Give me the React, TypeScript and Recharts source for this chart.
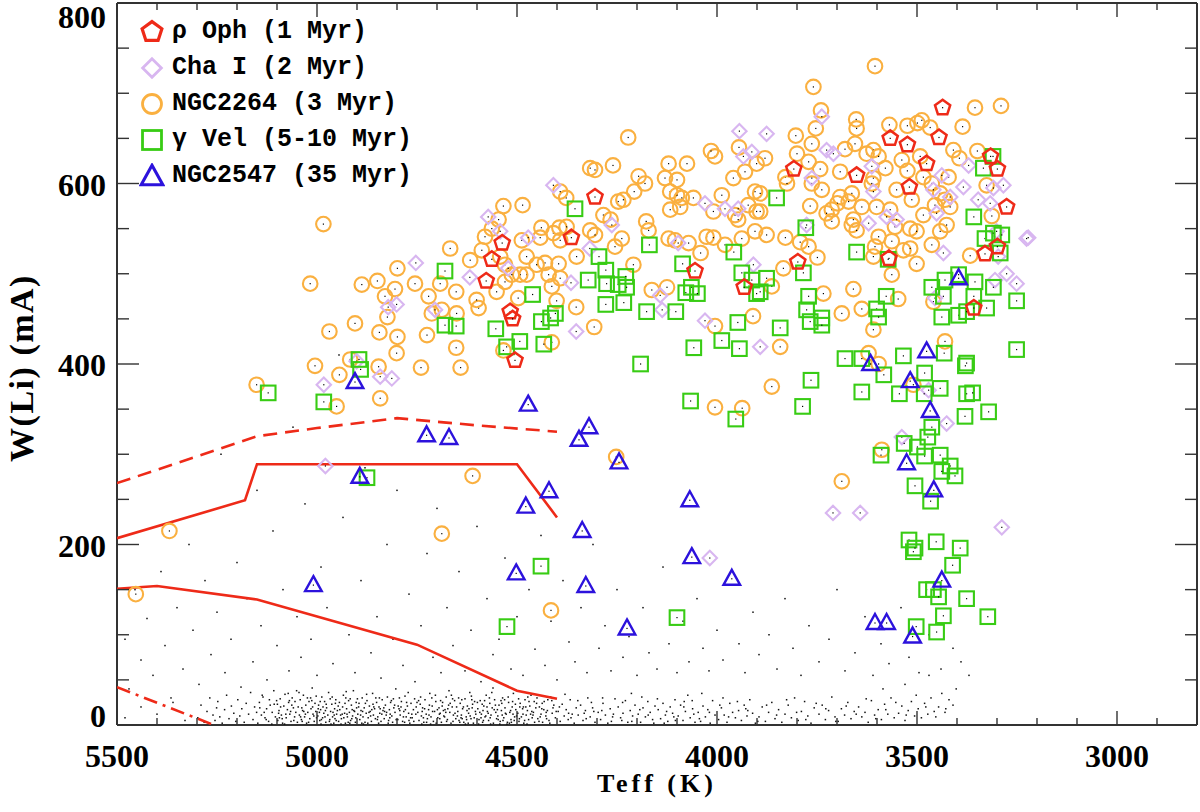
import React from 'react'
import { ScatterChart, Scatter, XAxis, YAxis, Legend, Label } from 'recharts'

type Pt = [number, number]

const RED = '#ee2a18'
const LAVENDER = '#d8b6f0'
const ORANGE = '#fab040'
const GREEN = '#38cc14'
const BLUE = '#2c12dc'
const AXIS = '#333'

const xTicks = [2900, 3000, 3100, 3200, 3300, 3400, 3500, 3600, 3700, 3800, 3900, 4000, 4100, 4200, 4300, 4400, 4500, 4600, 4700, 4800, 4900, 5000, 5100, 5200, 5300, 5400, 5500]
const xLabels = [3000, 3500, 4000, 4500, 5000, 5500]
const yTicks = [0, 50, 100, 150, 200, 250, 300, 350, 400, 450, 500, 550, 600, 650, 700, 750, 800]
const yLabels = [0, 200, 400, 600, 800]

// red model curves
const dashedCurve: Pt[] = [[5500, 268], [5150, 320], [5000, 329], [4800, 340], [4600, 332], [4400, 325]]
const upperCurve: Pt[] = [[5500, 207], [5180, 249], [5150, 289], [4500, 289], [4400, 230]]
const lowerCurve: Pt[] = [[5500, 151], [5400, 154], [5150, 139], [4750, 89], [4500, 38], [4400, 29]]
const dashDotCurve: Pt[] = [[5500, 42], [5258, 0]]

const rhoOph: Pt[] = [
  [4305, 585], [4364, 540], [4537, 534], [4563, 516], [4577, 492], [4517, 458], [4511, 450], [4505, 404], [4055, 503], [3932, 485],
  [3436, 684], [3567, 650], [3524, 643], [3445, 651], [3476, 622], [3808, 616], [3651, 609], [3519, 596], [3316, 630], [3299, 616],
  [3276, 574], [3330, 522], [3299, 530], [3570, 517], [3798, 513], [3358, 462],
]

const chaI: Pt[] = [
  [4409, 598], [4572, 563], [4472, 540], [4542, 547], [4753, 512], [4618, 496], [4522, 506], [4801, 466], [4822, 463], [4705, 460],
  [4901, 403], [4842, 386], [4813, 384], [4983, 377], [4365, 490], [4352, 436], [4263, 554], [4318, 528], [4097, 534], [4030, 578],
  [3980, 572], [3947, 572], [4142, 476], [4137, 460], [4030, 448], [3909, 510], [3892, 419], [3934, 630], [3913, 635], [4979, 287],
  [4018, 185], [3710, 235], [3288, 219], [3222, 540], [3944, 658], [3876, 655], [3738, 674], [3726, 637], [3709, 633], [3763, 606],
  [3613, 619], [3609, 591], [3459, 593], [3438, 609], [3417, 585], [3384, 596], [3371, 620], [3347, 582], [3317, 578], [3309, 595],
  [3284, 598], [3621, 556], [3576, 563], [3551, 560], [3451, 567], [3434, 523], [3301, 547], [3297, 519], [3226, 539], [3276, 500],
  [3251, 489], [3305, 493], [3455, 473], [3776, 554], [3538, 319], [3426, 334], [3471, 371], [3642, 235],
]

const ngc2264: Pt[] = [
  [5453, 145], [5369, 215], [5151, 377], [4984, 555], [5017, 489], [4888, 488], [4849, 492], [4799, 506], [4805, 483], [4830, 475],
  [4824, 452], [4755, 489], [4721, 475], [4692, 489], [4688, 460], [4713, 456], [4667, 528], [4652, 480], [4651, 456], [4905, 445],
  [4969, 436], [4844, 435], [4799, 430], [4801, 412], [4725, 432], [4652, 418], [4641, 396], [4740, 396], [5005, 398], [4944, 388],
  [4917, 405], [4846, 397], [4842, 362], [4951, 353], [4617, 515], [4588, 526], [4580, 541], [4563, 550], [4534, 575], [4486, 576],
  [4546, 560], [4542, 519], [4530, 510], [4488, 537], [4476, 519], [4439, 551], [4442, 540], [4409, 545], [4394, 551], [4392, 537],
  [4376, 552], [4396, 511], [4430, 512], [4451, 510], [4476, 499], [4492, 499], [4513, 499], [4530, 491], [4551, 480], [4421, 499],
  [4392, 495], [4413, 486], [4401, 470], [4351, 519], [4377, 584], [4392, 591], [4317, 617], [4305, 615], [4196, 608], [4121, 622],
  [4207, 591], [4177, 558], [4171, 548], [4247, 580], [4234, 582], [4284, 565], [4266, 560], [4317, 548], [4305, 543], [4255, 530],
  [4238, 539], [4209, 510], [4163, 482], [4125, 485], [4100, 604], [4117, 591], [4100, 587], [4088, 584], [4117, 571], [4092, 574],
  [4059, 584], [4009, 569], [3988, 587], [4005, 630], [3959, 606], [3930, 613], [3901, 622], [3955, 565], [3947, 560], [3922, 576],
  [3901, 569], [3905, 591], [4121, 539], [4105, 537], [4071, 534], [4026, 541], [4009, 540], [3980, 532], [3938, 539], [3905, 547],
  [4041, 523], [3910, 453], [4005, 442], [4005, 352], [4307, 441], [4352, 463], [4413, 424], [4534, 415], [4596, 462], [4601, 471],
  [4497, 473], [4688, 212], [4611, 276], [4415, 127], [4252, 297], [3937, 351], [4222, 651], [4260, 620], [4130, 606], [4075, 622],
  [4015, 636], [3945, 640], [3880, 628], [4180, 600], [3290, 686],
  [3605, 730], [3759, 707], [3740, 681], [3355, 684], [3652, 671], [3651, 661], [3753, 661], [3803, 653], [3569, 665], [3524, 664],
  [3499, 667], [3488, 670], [3467, 662], [3386, 663], [3763, 644], [3680, 638], [3655, 644], [3626, 633], [3609, 637], [3596, 630],
  [3800, 633], [3771, 624], [3742, 616], [3692, 613], [3829, 607], [3825, 600], [3763, 600], [3738, 593], [3609, 606], [3613, 600],
  [3579, 617], [3538, 626], [3524, 614], [3492, 630], [3484, 607], [3463, 600], [3421, 607], [3409, 637], [3394, 628], [3349, 636],
  [3326, 598], [3551, 593], [3513, 582], [3442, 589], [3430, 582], [3417, 574], [3455, 576], [3484, 565], [3517, 550], [3501, 547],
  [3442, 547], [3426, 554], [3463, 532], [3555, 552], [3567, 571], [3601, 574], [3663, 589], [3692, 585], [3699, 578], [3713, 571],
  [3726, 567], [3671, 580], [3638, 574], [3659, 560], [3663, 554], [3651, 548], [3713, 558], [3767, 575], [3829, 540], [3876, 543],
  [3892, 569], [3892, 589], [3792, 535], [3771, 530], [3749, 518], [3834, 506], [3863, 486], [3609, 519], [3605, 530], [3596, 541],
  [3563, 536], [3534, 526], [3517, 528], [3501, 511], [3563, 499], [3367, 520], [3313, 564], [3659, 483], [3734, 478], [3688, 456],
  [3638, 461], [3547, 472], [3609, 438], [3842, 419], [3430, 425], [3459, 469], [3863, 375], [3621, 412], [3596, 400], [3509, 377],
  [3588, 305], [3688, 270],
]

const gammaVel: Pt[] = [
  [4355, 572], [4680, 503], [4680, 443], [4652, 442], [4553, 439], [4461, 477], [4439, 447], [4416, 451], [4404, 456], [4493, 425],
  [4526, 419], [4433, 422], [4295, 519], [4322, 493], [4278, 504], [4276, 489], [4247, 488], [4228, 497], [4226, 485], [4278, 466],
  [4233, 468], [4169, 532], [4176, 458], [4191, 400], [4086, 511], [4078, 479], [4064, 485], [4049, 478], [4103, 458], [4058, 418],
  [3988, 426], [3944, 417], [3948, 446], [3958, 524], [3938, 501], [3913, 493], [3901, 478], [3876, 495], [4066, 359], [3953, 339],
  [4895, 405], [4891, 394], [4983, 358], [5122, 368], [4875, 274], [4440, 176], [4525, 109], [4100, 119],
  [3851, 584], [3778, 551], [3651, 524], [3572, 516], [3784, 501], [3892, 480], [3771, 475], [3776, 460], [3767, 447], [3738, 451],
  [3738, 443], [3577, 475], [3601, 461], [3596, 452], [3842, 440], [3358, 563], [3310, 630], [3334, 617], [3330, 539], [3309, 545],
  [3288, 543], [3292, 523], [3396, 499], [3430, 493], [3463, 485], [3355, 491], [3434, 475], [3358, 475], [3309, 485], [3251, 470],
  [3438, 452], [3396, 454], [3376, 458], [3326, 462], [3251, 416], [3432, 412], [3534, 409], [3680, 406], [3638, 406], [3376, 401],
  [3583, 388], [3379, 398], [3765, 382], [3786, 353], [3638, 369], [3544, 367], [3481, 390], [3482, 367], [3442, 373], [3376, 367],
  [3361, 368], [3380, 342], [3321, 347], [3463, 330], [3473, 319], [3532, 312], [3499, 308], [3481, 298], [3590, 299], [3442, 299],
  [3417, 287], [3438, 281], [3405, 276], [3505, 265], [3466, 248], [3520, 205], [3505, 196], [3509, 192], [3452, 203], [3392, 196],
  [3411, 177], [3476, 150], [3459, 150], [3446, 142], [3376, 140], [3434, 121], [3323, 120], [3502, 109], [3451, 103],
]

const ngc2547: Pt[] = [
  [4905, 380], [4893, 275], [5009, 155], [4726, 321], [4670, 318], [4472, 355], [4478, 242], [4502, 168], [4420, 259], [4345, 316],
  [4320, 330], [4337, 215], [4328, 154], [4245, 291], [4225, 107], [4068, 249], [4063, 186], [3963, 162], [3616, 400], [3476, 414],
  [3517, 381], [3467, 348], [3526, 290], [3458, 260], [3438, 160], [3605, 113], [3576, 113], [3511, 98], [3396, 495],
]

// field stars (small black dots)
const fieldStars: Pt[] = [
  [5480, 95], [5470, 40], [5455, 150], [5440, 72], [5425, 118], [5410, 55], [5390, 170], [5380, 88], [5365, 30], [5350, 130],
  [5335, 62], [5320, 200], [5310, 105], [5295, 45], [5280, 160], [5265, 78], [5250, 125], [5240, 300], [5230, 58], [5215, 95],
  [5200, 180], [5190, 42], [5175, 140], [5160, 70], [5150, 260], [5140, 110], [5125, 50], [5110, 215], [5100, 88], [5085, 150],
  [5070, 60], [5060, 330], [5050, 120], [5040, 75], [5030, 245], [5015, 95], [5000, 55], [4990, 175], [4975, 130], [4960, 68],
  [4945, 410], [4935, 230], [4920, 100], [4905, 58], [4890, 160], [4880, 285], [4865, 80], [4850, 120], [4840, 52], [4825, 200],
  [4810, 95], [4800, 260], [4785, 66], [4770, 145], [4755, 48], [4740, 110], [4725, 190], [4710, 75], [4700, 240], [4690, 58],
  [4675, 130], [4660, 88], [4645, 170], [4630, 60], [4615, 105], [4600, 220], [4590, 48], [4575, 140], [4560, 78], [4545, 95],
  [4530, 185], [4515, 62], [4500, 120], [4485, 55], [4470, 150], [4455, 84], [4440, 210], [4430, 66], [4415, 115], [4400, 50],
  [4385, 160], [4370, 92], [4355, 70], [4340, 130], [4325, 58], [4310, 200], [4295, 85], [4280, 110], [4265, 60], [4250, 150],
  [4235, 75], [4220, 98], [4200, 55], [4185, 130], [4170, 80], [4150, 62], [4135, 175], [4120, 90], [4100, 58], [4085, 115],
  [4070, 70], [4050, 140], [4035, 85], [4020, 60], [4000, 105], [3985, 72], [3960, 155], [3945, 90], [3930, 58], [3910, 125],
  [3895, 78], [3870, 100], [3850, 62], [3830, 140], [3810, 85], [3790, 55], [3770, 110], [3745, 70], [3720, 95], [3700, 150],
  [3680, 60], [3655, 80], [3630, 120], [3610, 55], [3590, 90], [3570, 68], [3540, 130], [3520, 75], [3495, 58], [3470, 100],
  [3440, 62], [3410, 85], [3390, 70], [3370, 55],
  [5480, 8], [5440, 20], [5400, 12], [5360, 25], [5330, 5],
  [5298, 8], [5290, 22], [5282, 3], [5275, 15], [5268, 30], [5260, 11], [5255, 5], [5251, 19],
  [5248, 26], [5243, 9], [5237, 2], [5231, 17], [5226, 33], [5220, 7], [5214, 21], [5208, 13], [5203, 4],
  [5198, 28], [5193, 10], [5188, 18], [5182, 3], [5177, 24], [5171, 12], [5166, 36], [5160, 6], [5156, 20], [5151, 14],
  [5148, 2], [5144, 25], [5139, 11], [5135, 31], [5130, 8], [5126, 18], [5121, 4], [5117, 22], [5112, 14], [5108, 38], [5104, 9], [5101, 27],
  [5098, 5], [5095, 16], [5092, 29], [5089, 11], [5086, 2], [5083, 21], [5080, 34], [5077, 8], [5074, 17], [5071, 25],
  [5068, 12], [5065, 4], [5062, 30], [5059, 19], [5056, 9], [5053, 14], [5051, 38], [5099, 23], [5087, 7], [5066, 15],
  [5049, 3], [5047, 20], [5044, 11], [5042, 28], [5039, 6], [5036, 16], [5034, 33], [5031, 9], [5028, 22], [5026, 2],
  [5023, 14], [5020, 26], [5018, 7], [5015, 18], [5012, 41], [5010, 12], [5007, 4], [5005, 24], [5003, 15], [5001, 8], [5038, 19], [5016, 30],
  [4998, 10], [4996, 22], [4993, 5], [4991, 17], [4988, 31], [4986, 8], [4983, 13], [4981, 26], [4978, 3], [4976, 19],
  [4973, 11], [4971, 36], [4968, 6], [4966, 15], [4963, 23], [4961, 9], [4958, 2], [4956, 18], [4953, 28], [4951, 12],
  [4985, 20], [4969, 4], [4960, 14], [4990, 1], [4955, 7],
  [4949, 16], [4946, 4], [4944, 25], [4941, 11], [4939, 7], [4936, 20], [4934, 33], [4931, 13], [4929, 2], [4926, 18],
  [4924, 9], [4921, 27], [4919, 14], [4916, 5], [4914, 22], [4911, 10], [4909, 38], [4906, 15], [4904, 3], [4901, 19],
  [4940, 1], [4925, 12], [4912, 17], [4930, 24], [4903, 8],
  [4898, 12], [4895, 24], [4893, 6], [4890, 16], [4887, 30], [4885, 9], [4882, 19], [4880, 3], [4877, 13], [4875, 27],
  [4872, 8], [4869, 21], [4867, 15], [4864, 4], [4861, 35], [4859, 11], [4856, 18], [4854, 7], [4851, 25], [4888, 2], [4870, 14], [4858, 20],
  [4848, 9], [4845, 20], [4843, 13], [4840, 4], [4837, 28], [4835, 16], [4832, 7], [4829, 22], [4827, 11], [4824, 31],
  [4821, 5], [4819, 17], [4816, 25], [4813, 10], [4811, 3], [4808, 19], [4805, 14], [4803, 40], [4842, 18], [4818, 8],
  [4798, 6], [4795, 18], [4792, 11], [4789, 26], [4786, 4], [4783, 15], [4780, 32], [4777, 9], [4774, 21], [4771, 13],
  [4768, 2], [4765, 24], [4762, 8], [4759, 17], [4756, 29], [4753, 12], [4790, 20], [4770, 5],
  [4748, 14], [4745, 5], [4742, 23], [4739, 10], [4736, 19], [4733, 3], [4730, 28], [4727, 12], [4724, 7], [4721, 17],
  [4718, 35], [4715, 9], [4712, 21], [4709, 4], [4706, 15], [4703, 26], [4738, 1], [4720, 11],
  [4698, 8], [4695, 19], [4692, 13], [4689, 3], [4686, 25], [4683, 10], [4680, 17], [4677, 31], [4674, 6], [4671, 22],
  [4668, 14], [4665, 2], [4662, 20], [4659, 11], [4656, 27], [4653, 7], [4684, 16], [4670, 38], [4660, 4], [4694, 12],
  [4648, 15], [4645, 5], [4642, 24], [4639, 11], [4636, 18], [4633, 3], [4630, 29], [4627, 9], [4624, 21], [4621, 13],
  [4618, 36], [4615, 7], [4612, 19], [4609, 2], [4606, 26], [4603, 12], [4640, 8], [4625, 16], [4611, 23], [4646, 30], [4629, 1], [4617, 10],
  [4598, 18], [4595, 6], [4592, 27], [4589, 12], [4586, 3], [4583, 21], [4580, 9], [4577, 33], [4574, 15], [4571, 5],
  [4568, 24], [4565, 11], [4562, 19], [4559, 2], [4556, 28], [4553, 14], [4590, 8], [4575, 20], [4560, 41], [4551, 7], [4585, 16], [4566, 1],
  [4548, 10], [4545, 22], [4542, 4], [4539, 16], [4536, 30], [4533, 8], [4530, 19], [4527, 12], [4524, 3], [4521, 25],
  [4518, 14], [4515, 6], [4512, 20], [4509, 35], [4506, 9], [4503, 17], [4540, 27], [4525, 1], [4510, 12], [4535, 5],
  [4498, 13], [4495, 4], [4492, 24], [4489, 9], [4486, 18], [4483, 2], [4480, 28], [4477, 11], [4474, 16], [4471, 6],
  [4468, 21], [4465, 33], [4462, 8], [4459, 14], [4456, 3], [4453, 19], [4485, 12], [4470, 26],
  [4448, 7], [4444, 20], [4440, 12], [4436, 3], [4432, 26], [4428, 10], [4424, 16], [4420, 5], [4416, 31], [4412, 13], [4408, 22], [4404, 8], [4438, 18], [4418, 2],
  [4397, 15], [4392, 4], [4387, 23], [4382, 10], [4377, 17], [4372, 6], [4367, 28], [4362, 12], [4357, 2], [4352, 19], [4380, 34], [4365, 8],
  [4347, 11], [4341, 22], [4335, 5], [4329, 16], [4323, 30], [4317, 9], [4311, 19], [4305, 3], [4332, 13], [4314, 25],
  [4297, 14], [4291, 6], [4285, 24], [4279, 11], [4273, 2], [4267, 18], [4261, 9], [4255, 29], [4288, 16], [4264, 4],
  [4247, 20], [4241, 8], [4235, 13], [4229, 27], [4223, 3], [4217, 16], [4211, 10], [4205, 22], [4238, 5], [4214, 35],
  [4197, 12], [4191, 3], [4185, 19], [4179, 9], [4173, 26], [4167, 14], [4161, 6], [4155, 21], [4188, 31], [4158, 2],
  [4147, 17], [4141, 7], [4135, 24], [4129, 11], [4123, 4], [4117, 20], [4111, 13], [4105, 28], [4132, 2], [4108, 9],
  [4097, 10], [4091, 22], [4085, 5], [4079, 15], [4073, 33], [4067, 8], [4061, 18], [4055, 3], [4082, 26], [4058, 12],
  [4047, 14], [4041, 4], [4035, 21], [4029, 9], [4023, 17], [4017, 2], [4011, 27], [4005, 11], [4038, 35],
  [3996, 6], [3989, 19], [3982, 11], [3975, 3], [3968, 24], [3961, 14], [3954, 8], [3985, 30],
  [3946, 16], [3939, 5], [3932, 22], [3925, 10], [3918, 28], [3911, 13], [3904, 2], [3928, 18],
  [3895, 9], [3887, 20], [3879, 4], [3871, 14], [3863, 25], [3855, 7],
  [3846, 17], [3838, 3], [3830, 12], [3822, 22], [3814, 8], [3806, 30],
  [3797, 5], [3789, 15], [3781, 26], [3773, 10], [3765, 2], [3757, 19],
  [3745, 12], [3737, 22], [3729, 6], [3721, 16], [3713, 31], [3705, 9],
  [3697, 4], [3689, 18], [3681, 11], [3673, 25], [3665, 7], [3657, 15],
  [3646, 20], [3638, 9], [3630, 14], [3622, 3], [3614, 27], [3606, 11],
  [3597, 17], [3589, 6], [3581, 23], [3573, 12], [3565, 30], [3557, 8], [3585, 40],
  [3546, 13], [3538, 21], [3530, 5], [3522, 16], [3514, 26], [3506, 10], [3530, 45],
  [3497, 18], [3489, 8], [3481, 24], [3473, 12], [3465, 30], [3457, 15], [3470, 55],
  [3446, 20], [3438, 35], [3430, 14], [3420, 28], [3410, 22], [3402, 40],
  [5143, 19], [5127, 6], [5119, 28], [5096, 13], [5081, 1], [5072, 35], [5063, 22], [5041, 9], [5033, 15], [5021, 3],
  [5013, 27], [4997, 18], [4989, 6], [4977, 23], [4962, 31], [4957, 11], [4947, 21], [4933, 8], [4922, 3], [4917, 29],
  [4908, 16], [4896, 20], [4884, 1], [4879, 24], [4866, 10], [4853, 30], [4846, 2], [4833, 19], [4826, 14], [4814, 27],
  [4802, 6], [4793, 16], [4781, 3], [4776, 25], [4763, 12], [4752, 20], [4741, 31], [4734, 8], [4719, 22], [4711, 15],
  [4702, 2], [4691, 27], [4681, 9], [4673, 18], [4664, 33], [4655, 13], [4643, 3], [4634, 20], [4626, 6], [4613, 28],
  [4604, 15], [4596, 1], [4587, 23], [4578, 10], [4569, 30], [4557, 17], [4547, 6], [4538, 24], [4529, 13], [4519, 2],
  [4511, 26], [4501, 10], [4493, 20], [4481, 5], [4473, 31], [4463, 15], [4451, 24], [4442, 9], [4433, 17], [4423, 28],
  [5137, 33], [5113, 1], [5091, 20], [5069, 27], [5058, 5], [5045, 36], [5029, 12], [5011, 20], [5002, 32], [4994, 14],
  [4980, 9], [4967, 29], [4952, 5], [4943, 17], [4928, 30], [4918, 2], [4902, 25], [4891, 11], [4876, 34], [4863, 17],
  [4849, 6], [4838, 12], [4822, 2], [4809, 29], [4797, 21], [4784, 9], [4772, 36], [4758, 4], [4746, 27], [4731, 18],
  [4716, 1], [4704, 33], [4693, 7], [4678, 14], [4667, 24], [4651, 20], [4637, 7], [4622, 2], [4614, 32], [4599, 25],
  [4584, 5], [4572, 13], [4563, 36], [4549, 17], [4537, 11], [4522, 31], [4514, 3], [4504, 23], [4494, 7], [4478, 20],
  [4466, 12], [4457, 26], [4445, 4], [4427, 14], [4410, 19],
  [5132, 14], [5107, 23], [5094, 8], [5078, 12], [5055, 26], [5037, 4], [5024, 30], [5008, 10], [4992, 26], [4979, 16],
  [4965, 1], [4954, 24], [4937, 12], [4927, 37], [4913, 7], [4899, 29], [4886, 15], [4873, 2], [4860, 23], [4844, 30],
  [4831, 15], [4817, 12], [4806, 22], [4794, 30], [4779, 17], [4766, 8], [4750, 25], [4737, 15], [4726, 3], [4713, 30],
  [4699, 17], [4687, 21], [4676, 4], [4661, 29], [4649, 10], [4638, 28], [4620, 18], [4607, 8], [4593, 14], [4581, 27],
  [4567, 8], [4554, 22], [4543, 1], [4531, 28], [4516, 16], [4507, 5], [4496, 29], [4484, 20], [4475, 1], [4460, 11],
  [4450, 30], [4437, 24], [4426, 7], [4413, 27], [4402, 15],
  [4394, 20], [4371, 13], [4348, 27], [4327, 7], [4308, 15], [4286, 30], [4259, 12], [4236, 25], [4213, 4], [4193, 17],
  [4172, 11], [4149, 29], [4126, 15], [4104, 5], [4083, 20], [4062, 27], [4044, 7], [4019, 14], [3993, 22], [3971, 9],
  [3949, 26], [3923, 16], [3898, 4], [3876, 22], [3851, 11], [3826, 28], [3801, 14], [3778, 6], [3752, 24], [3728, 18],
  [3703, 4], [3677, 21], [3652, 12], [3627, 29], [3603, 7], [3578, 17], [3553, 25], [3527, 11], [3502, 33], [3478, 20],
  [3453, 9], [3428, 18],
]

const legendItems = [
  { label: 'ρ Oph (1 Myr)', kind: 'pentagon', color: RED },
  { label: 'Cha I (2 Myr)', kind: 'diamond', color: LAVENDER },
  { label: 'NGC2264 (3 Myr)', kind: 'circle', color: ORANGE },
  { label: 'γ Vel (5-10 Myr)', kind: 'square', color: GREEN },
  { label: 'NGC2547 (35 Myr)', kind: 'triangle', color: BLUE },
]

const rows = (pts: Pt[]) => pts.map(([teff, li]) => ({ teff, li }))

const Marker = ({ kind, cx, cy, color, k = 1, sw = 2.1 }: { kind: string; cx: number; cy: number; color: string; k?: number; sw?: number }) => {
  let el: React.ReactNode = null
  if (kind === 'circle') {
    el = <circle cx={cx} cy={cy} r={7.3 * k} fill="none" stroke={color} strokeWidth={sw} />
  } else if (kind === 'square') {
    const h = 7.3 * k
    el = <rect x={cx - h} y={cy - h} width={2 * h} height={2 * h} fill="none" stroke={color} strokeWidth={sw} />
  } else if (kind === 'diamond') {
    const h = 7.2 * k
    el = <polygon points={`${cx},${cy - h} ${cx + h},${cy} ${cx},${cy + h} ${cx - h},${cy}`} fill="none" stroke={color} strokeWidth={sw} />
  } else if (kind === 'triangle') {
    el = <polygon points={`${cx},${cy - 9 * k} ${cx + 8.3 * k},${cy + 6 * k} ${cx - 8.3 * k},${cy + 6 * k}`} fill="none" stroke={color} strokeWidth={sw + 0.3} />
  } else if (kind === 'pentagon') {
    const r = 8 * k
    const pts = [0, 1, 2, 3, 4]
      .map((i) => {
        const a = ((-90 + 72 * i) * Math.PI) / 180
        return `${cx + r * Math.cos(a)},${cy + r * Math.sin(a)}`
      })
      .join(' ')
    el = <polygon points={pts} fill="none" stroke={color} strokeWidth={sw + 0.4} />
  }
  return (
    <g>
      {el}
      {k === 1 && <rect x={cx - 0.6} y={cy - 0.6} width={1.2} height={1.2} fill="#000" />}
    </g>
  )
}

const shapeOf = (kind: string, color: string) => (p: any) => <Marker kind={kind} cx={p.cx} cy={p.cy} color={color} />

const FieldDot = (p: any) => <rect x={p.cx - 0.75} y={p.cy - 0.75} width={1.5} height={1.5} fill="#111" />
const NoDot = () => <g />

const serif = '"Liberation Serif", "DejaVu Serif", serif'

const BottomTick = (p: any) => {
  const v = p.payload.value
  const major = xLabels.includes(v)
  return (
    <g>
      <line x1={p.x} x2={p.x} y1={p.y} y2={p.y - (major ? 14 : 7)} stroke={AXIS} strokeWidth={1.4} />
      {major && (
        <text x={p.x} y={p.y + 42} textAnchor="middle" fontFamily={serif} fontWeight="bold" fontSize={32} fill="#000">
          {v}
        </text>
      )}
    </g>
  )
}

const TopTick = (p: any) => {
  const major = xLabels.includes(p.payload.value)
  return <line x1={p.x} x2={p.x} y1={p.y} y2={p.y + (major ? 14 : 7)} stroke={AXIS} strokeWidth={1.4} />
}

const LeftTick = (p: any) => {
  const v = p.payload.value
  const major = yLabels.includes(v)
  const dy = v === 800 ? 25 : v === 0 ? 1.5 : 12
  return (
    <g>
      <line x1={p.x} x2={p.x + (major ? 22 : 12)} y1={p.y} y2={p.y} stroke={AXIS} strokeWidth={1.4} />
      {major && (
        <text x={p.x - 11} y={p.y + dy} textAnchor="end" fontFamily={serif} fontWeight="bold" fontSize={32} fill="#000">
          {v}
        </text>
      )}
    </g>
  )
}

const RightTick = (p: any) => {
  const major = yLabels.includes(p.payload.value)
  return <line x1={p.x} x2={p.x - (major ? 22 : 12)} y1={p.y} y2={p.y} stroke={AXIS} strokeWidth={1.4} />
}

const LegendBox = () => (
  <div style={{ display: 'flex', flexDirection: 'column' }}>
    {legendItems.map((it) => (
      <div key={it.label} style={{ display: 'flex', alignItems: 'center', height: 36 }}>
        <svg width={26} height={26} style={{ display: 'block' }}>
          <Marker kind={it.kind} cx={13} cy={it.kind === 'triangle' ? 14 : 13} color={it.color} k={1.3} sw={2.8} />
        </svg>
        <span
          style={{
            marginLeft: 7,
            fontFamily: '"Liberation Mono", "DejaVu Sans Mono", monospace',
            fontWeight: 'bold',
            fontSize: 25,
            color: '#000',
            whiteSpace: 'nowrap',
            lineHeight: '36px',
          }}
        >
          {it.label}
        </span>
      </div>
    ))}
  </div>
)

const lineSeries = (data: Pt[], dash?: string) => (
  <Scatter
    data={rows(data)}
    line={{ stroke: RED, strokeWidth: 2.6, strokeDasharray: dash }}
    lineType="joint"
    shape={NoDot}
    isAnimationActive={false}
  />
)

export default function App() {
  return (
    <div style={{ width: 1200, height: 812, background: '#fff', position: 'relative' }}>
      <style>{'body{margin:0;background:#fff}'}</style>
      <ScatterChart width={1200} height={812} margin={{ top: 0, right: 0, bottom: 0, left: 0 }}>
        <XAxis
          dataKey="teff"
          type="number"
          domain={[2800, 5500]}
          reversed
          allowDataOverflow
          ticks={xTicks}
          interval={0}
          height={87}
          tickSize={0}
          tickMargin={0}
          tickLine={false}
          tick={BottomTick}
          axisLine={{ stroke: AXIS, strokeWidth: 2 }}
        >
          <Label
            content={() => (
              <text x={657} y={792} textAnchor="middle" fontFamily={serif} fontWeight="bold" fontSize={26} letterSpacing={4} fill="#000">
                Teff (K)
              </text>
            )}
          />
        </XAxis>
        <XAxis
          xAxisId="top"
          orientation="top"
          dataKey="teff"
          type="number"
          domain={[2800, 5500]}
          reversed
          allowDataOverflow
          ticks={xTicks}
          interval={0}
          height={3}
          tickSize={0}
          tickMargin={0}
          tickLine={false}
          tick={TopTick}
          axisLine={{ stroke: AXIS, strokeWidth: 2 }}
        />
        <YAxis
          dataKey="li"
          type="number"
          domain={[0, 800]}
          allowDataOverflow
          ticks={yTicks}
          interval={0}
          width={117}
          tickSize={0}
          tickMargin={0}
          tickLine={false}
          tick={LeftTick}
          axisLine={{ stroke: AXIS, strokeWidth: 2 }}
        >
          <Label
            content={() => (
              <text
                x={33}
                y={368}
                transform="rotate(-90, 33, 368)"
                textAnchor="middle"
                fontFamily={serif}
                fontWeight="bold"
                fontSize={34}
                letterSpacing={1.5}
                fill="#000"
              >
                W(Li) (mA)
              </text>
            )}
          />
        </YAxis>
        <YAxis
          yAxisId="right"
          orientation="right"
          dataKey="li"
          type="number"
          domain={[0, 800]}
          allowDataOverflow
          ticks={yTicks}
          interval={0}
          width={3}
          tickSize={0}
          tickMargin={0}
          tickLine={false}
          tick={RightTick}
          axisLine={{ stroke: AXIS, strokeWidth: 2 }}
        />
        <Legend
          content={<LegendBox />}
          layout="horizontal"
          verticalAlign="middle"
          align="center"
          wrapperStyle={{ position: 'absolute', left: 139, top: 14, width: 340, height: 'auto' }}
        />
        <Scatter data={rows(fieldStars)} shape={FieldDot} isAnimationActive={false} />
        {lineSeries(dashedCurve, '14 8')}
        {lineSeries(upperCurve)}
        {lineSeries(lowerCurve)}
        {lineSeries(dashDotCurve, '14 6 3 6')}
        <Scatter data={rows(ngc2264)} shape={shapeOf('circle', ORANGE)} isAnimationActive={false} />
        <Scatter data={rows(chaI)} shape={shapeOf('diamond', LAVENDER)} isAnimationActive={false} />
        <Scatter data={rows(gammaVel)} shape={shapeOf('square', GREEN)} isAnimationActive={false} />
        <Scatter data={rows(ngc2547)} shape={shapeOf('triangle', BLUE)} isAnimationActive={false} />
        <Scatter data={rows(rhoOph)} shape={shapeOf('pentagon', RED)} isAnimationActive={false} />
      </ScatterChart>
    </div>
  )
}
